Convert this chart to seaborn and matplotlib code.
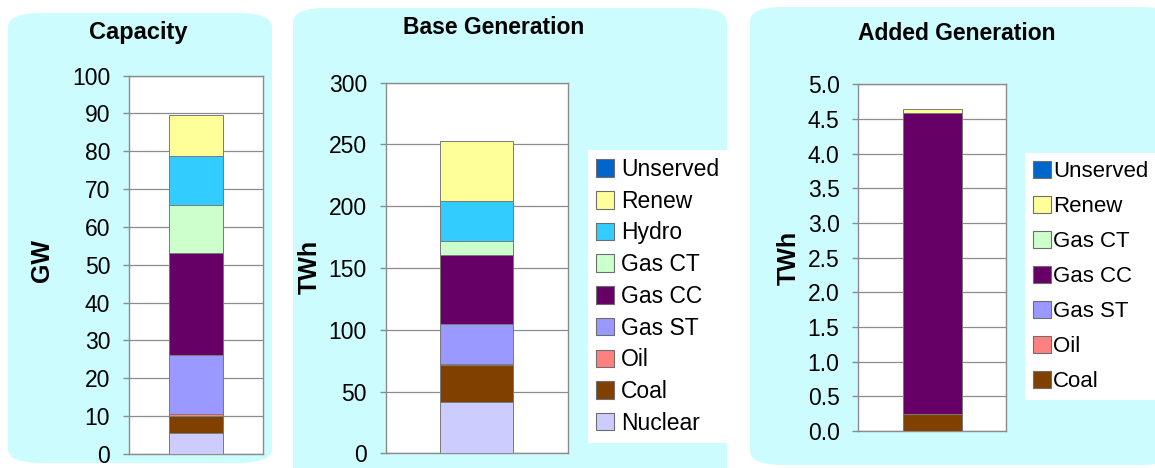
"""
Capacity / Base generation / Added generation stacked bars
"""

import matplotlib.pyplot as plt
import matplotlib.patches as mpatches
import numpy as np
import pandas as pd
import seaborn as sns

sns.set_style("white")
plt.rcParams["font.family"] = ["Liberation Sans", "DejaVu Sans"]
plt.rcParams["text.color"] = "black"
plt.rcParams["ytick.labelcolor"] = "black"

W, H = 1155, 468

# ── data ───────────────────────────────────────────────────────────────────
SOURCES = ["Nuclear", "Coal", "Oil", "Gas ST", "Gas CC", "Gas CT", "Hydro", "Renew", "Unserved"]
CAPACITY_GW = [5.5, 4.5, 0.5, 15.5, 27.0, 12.7, 13.1, 10.8, 0.0]
BASE_GEN_TWH = [41.5, 30.2, 0.2, 32.4, 56.0, 11.3, 33.0, 48.3, 0.0]

ADDED_SOURCES = ["Coal", "Oil", "Gas ST", "Gas CC", "Gas CT", "Renew", "Unserved"]
ADDED_GEN_TWH = [0.25, 0.0, 0.0, 4.33, 0.01, 0.05, 0.0]

COLORS = {
    "Nuclear":  "#CCCCFF",
    "Coal":     "#804000",
    "Oil":      "#FF8080",
    "Gas ST":   "#9999FF",
    "Gas CC":   "#660066",
    "Gas CT":   "#CCFFCC",
    "Hydro":    "#33CCFF",
    "Renew":    "#FFFF99",
    "Unserved": "#0066CC",
}
PANEL_BG = "#CCFCFD"
GRID = "#8C8C8C"


def fx(px):
    return px / W


def fy(py):
    return 1 - py / H


def _axes(fig, left, top, right, bottom):
    return fig.add_axes([fx(left), fy(bottom), fx(right - left), (bottom - top) / H])


def _panel(fig, left, top, right, bottom):
    box = mpatches.FancyBboxPatch(
        (fx(left), fy(bottom)), fx(right - left), (bottom - top) / H,
        boxstyle="round,pad=0,rounding_size=0.03", transform=fig.transFigure,
        facecolor=PANEL_BG, edgecolor="none", zorder=-5)
    fig.patches.append(box)


def _stacked(ax, sources, values, ymax, step, fmt):
    df = pd.DataFrame({"source": sources, "value": values})
    df["top"] = df["value"].cumsum()
    # draw tallest first, each lower cumulative bar on top of it
    for _, row in df[::-1].iterrows():
        if row["value"] <= 0:
            continue
        sns.barplot(data=pd.DataFrame({"g": [""], "top": [row["top"]]}), x="g", y="top",
                    color=COLORS[row["source"]], saturation=1, width=0.4,
                    edgecolor="#7A7A7A", linewidth=0.7, ax=ax, zorder=3)
    ax.set_ylim(0, ymax)
    ticks = np.arange(0, ymax + step / 2, step)
    ax.set_yticks(ticks)
    ax.set_yticklabels([fmt.format(t) for t in ticks], fontsize=16.5)
    ax.set_xticks([])
    ax.set_xlabel("")
    ax.set_ylabel("")
    ax.set_facecolor("white")
    ax.grid(axis="y", color=GRID, linewidth=0.9, zorder=0)
    ax.set_axisbelow(True)
    for sp in ax.spines.values():
        sp.set_visible(True)
        sp.set_color(GRID)
        sp.set_linewidth(1.0)
    ax.tick_params(axis="y", left=True, direction="out", length=4.5, color=GRID, width=1.0, pad=9)


def _legend(fig, sources, left, top, size, spacing, textpad):
    handles = [mpatches.Patch(facecolor=COLORS[s], edgecolor="#6E6E6E", linewidth=0.8, label=s)
               for s in reversed(sources)]
    fig.legend(handles=handles, loc="upper left", bbox_to_anchor=(fx(left), fy(top)),
               fontsize=size, frameon=True, facecolor="white", edgecolor="none",
               fancybox=False, framealpha=1, handlelength=0.8, handleheight=0.8,
               handletextpad=textpad, labelspacing=spacing, borderpad=0.35, borderaxespad=0)


fig = plt.figure(figsize=(W / 100, H / 100), dpi=100)

_panel(fig, 8, 13, 272, 463)
_panel(fig, 293, 8, 727, 490)
_panel(fig, 750, 7, 1175, 465)

ax1 = _axes(fig, 129, 75.7, 263, 453.7)
_stacked(ax1, SOURCES, CAPACITY_GW, 100, 10, "{:.0f}")
ax2 = _axes(fig, 385.7, 82.7, 568, 453.3)
_stacked(ax2, SOURCES, BASE_GEN_TWH, 300, 50, "{:.0f}")
ax3 = _axes(fig, 858.3, 84.3, 1006, 431)
_stacked(ax3, ADDED_SOURCES, ADDED_GEN_TWH, 5.0, 0.5, "{:.1f}")

fig.text(fx(138), fy(32), "Capacity", ha="center", va="center", fontsize=17, fontweight="bold")
fig.text(fx(494), fy(27), "Base Generation", ha="center", va="center", fontsize=16.5, fontweight="bold")
fig.text(fx(957), fy(33), "Added Generation", ha="center", va="center", fontsize=16.5, fontweight="bold")

fig.text(fx(42), fy(261), "GW", ha="center", va="center", rotation=90, fontsize=18, fontweight="bold")
fig.text(fx(310), fy(267), "TWh", ha="center", va="center", rotation=90, fontsize=18, fontweight="bold")
fig.text(fx(789), fy(258), "TWh", ha="center", va="center", rotation=90, fontsize=18, fontweight="bold")

_legend(fig, SOURCES, 588, 150, 16.5, 0.38, 0.3)
_legend(fig, ADDED_SOURCES, 1025, 153, 16, 0.62, 0.12)

fig.savefig("out.png", dpi=100, facecolor="white")
